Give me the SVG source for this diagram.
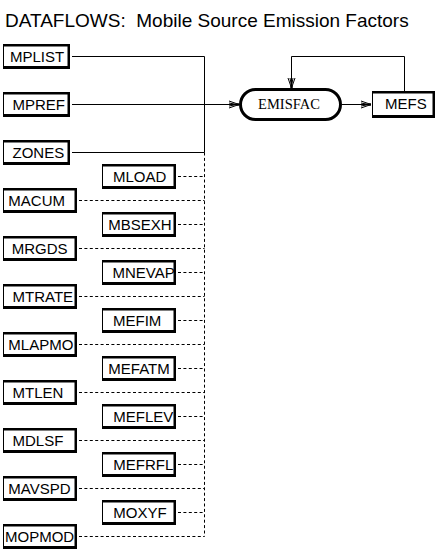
<svg xmlns="http://www.w3.org/2000/svg" width="438" height="553" viewBox="0 0 438 553">
<style>
text{font-family:"Liberation Sans",Arial,sans-serif;font-size:15px;fill:#000}
.title{font-size:19px;white-space:pre}
.proc{font-family:"Liberation Serif","Times New Roman",serif;font-size:14.5px;text-anchor:middle}
.ln{fill:none;stroke:#000;stroke-width:1}
.dash{fill:none;stroke:#000;stroke-width:1;stroke-dasharray:3 2.4}
</style>
<defs>
<g id="bxS"><rect width="67" height="25" fill="#000"/><rect x="1" y="2.5" width="63.5" height="19.5" fill="#fff"/></g>
<g id="bxL"><rect width="74" height="25" fill="#000"/><rect x="1" y="2.5" width="70.5" height="19.5" fill="#fff"/></g>
<marker id="arr" markerUnits="userSpaceOnUse" markerWidth="14" markerHeight="10" viewBox="-12 -5 14 10" refX="0" refY="0" orient="auto">
<path d="M-10,-3.5 L0,0 L-10,3.5 M-10,-1.5 L-2,0 L-10,1.5" fill="none" stroke="#000" stroke-width="1"/>
<rect x="-2.5" y="-1.2" width="2.5" height="2.4" fill="#000"/>
</marker>
</defs>
<rect width="438" height="553" fill="#fff"/>
<text class="title" x="5" y="26.5" xml:space="preserve">DATAFLOWS:  Mobile Source Emission Factors</text>

<g id="connectors">
<path class="ln" d="M72,56.5 H204.5 V152.5"/>
<path class="ln" d="M72,152.5 H204.5"/>
<path class="ln" d="M72,104.5 H239" marker-end="url(#arr)"/>
<path class="dash" d="M204.5,152.5 V536.5"/>
<path class="dash" d="M79,200.5 H204.5 M79,248.5 H204.5 M79,296.5 H204.5 M79,344.5 H204.5 M79,392.5 H204.5 M79,440.5 H204.5 M79,488.5 H204.5 M79,536.5 H204.5"/>
<path class="dash" d="M178,176.5 H204.5 M178,224.5 H204.5 M178,272.5 H204.5 M178,320.5 H204.5 M178,368.5 H204.5 M178,416.5 H204.5 M178,464.5 H204.5 M178,512.5 H204.5"/>
<path class="ln" d="M342,104.5 H371" marker-end="url(#arr)"/>
<path class="ln" d="M404.5,91 V56.5 H291.5 V88" marker-end="url(#arr)"/>
</g>

<g id="n-MPLIST"><use href="#bxS" x="3" y="44"/><text x="10" y="61.5">MPLIST</text></g>
<g id="n-MPREF"><use href="#bxS" x="3" y="92"/><text x="12.5" y="109.5">MPREF</text></g>
<g id="n-ZONES"><use href="#bxS" x="3" y="140"/><text x="12.5" y="157.5">ZONES</text></g>
<g id="n-MACUM"><use href="#bxL" x="3" y="188"/><text x="8.3" y="205.5">MACUM</text></g>
<g id="n-MRGDS"><use href="#bxL" x="3" y="236"/><text x="11.7" y="253.5">MRGDS</text></g>
<g id="n-MTRATE"><use href="#bxL" x="3" y="284"/><text x="12.5" y="301.5">MTRATE</text></g>
<g id="n-MLAPMO"><use href="#bxL" x="3" y="332"/><text x="8.3" y="349.5">MLAPMO</text></g>
<g id="n-MTLEN"><use href="#bxL" x="3" y="380"/><text x="12.5" y="397.5">MTLEN</text></g>
<g id="n-MDLSF"><use href="#bxL" x="3" y="428"/><text x="12.5" y="445.5">MDLSF</text></g>
<g id="n-MAVSPD"><use href="#bxL" x="3" y="476"/><text x="8.3" y="493.5">MAVSPD</text></g>
<g id="n-MOPMOD"><use href="#bxL" x="3" y="524"/><text x="5" y="541.5">MOPMOD</text></g>

<g id="n-MLOAD"><use href="#bxL" x="102" y="164"/><text x="113" y="181.5">MLOAD</text></g>
<g id="n-MBSEXH"><use href="#bxL" x="102" y="212"/><text x="108.3" y="229.5">MBSEXH</text></g>
<g id="n-MNEVAP"><use href="#bxL" x="102" y="260"/><text x="112.5" y="277.5">MNEVAP</text></g>
<g id="n-MEFIM"><use href="#bxL" x="102" y="308"/><text x="113" y="325.5">MEFIM</text></g>
<g id="n-MEFATM"><use href="#bxL" x="102" y="356"/><text x="108.3" y="373.5">MEFATM</text></g>
<g id="n-MEFLEV"><use href="#bxL" x="102" y="404"/><text x="113.3" y="421.5">MEFLEV</text></g>
<g id="n-MEFRFL"><use href="#bxL" x="102" y="452"/><text x="113.3" y="469.5">MEFRFL</text></g>
<g id="n-MOXYF"><use href="#bxL" x="102" y="500"/><text x="113.3" y="517.5">MOXYF</text></g>

<g id="n-EMISFAC"><rect x="240.5" y="89.5" width="100" height="30" rx="15" ry="15" fill="#fff" stroke="#000" stroke-width="3"/><text class="proc" x="289" y="109">EMISFAC</text></g>
<g id="n-MEFS"><rect x="372" y="91" width="63" height="27" fill="#000"/><rect x="373" y="93.5" width="59.5" height="21.5" fill="#fff"/><text x="385" y="109">MEFS</text></g>
</svg>
